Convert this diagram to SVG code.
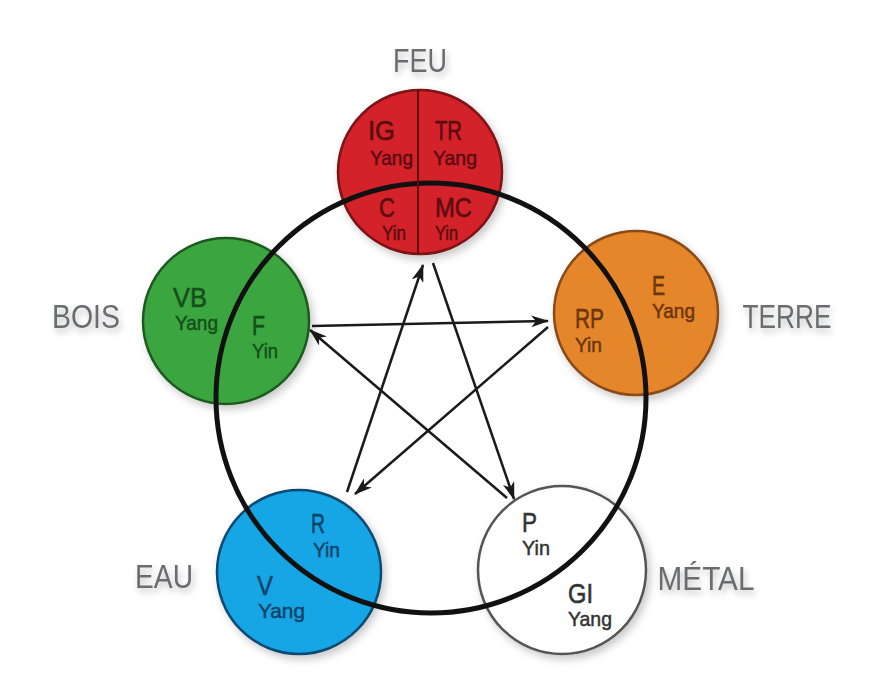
<svg xmlns="http://www.w3.org/2000/svg" width="887" height="690" viewBox="0 0 887 690">
  <defs>
    <filter id="sh" x="-20%" y="-20%" width="150%" height="150%">
      <feDropShadow dx="3" dy="4" stdDeviation="4" flood-color="#000" flood-opacity="0.22"/>
    </filter>
    <filter id="tsh" x="-20%" y="-30%" width="150%" height="180%">
      <feDropShadow dx="2" dy="4" stdDeviation="3" flood-color="#000" flood-opacity="0.25"/>
    </filter>
    <marker id="ah" viewBox="0 0 18 12" refX="17" refY="6" markerWidth="18" markerHeight="12" markerUnits="userSpaceOnUse" orient="auto">
      <path d="M0,0 L18,6 L0,12 L5,6 Z" fill="#1a1a1a"/>
    </marker>
    <style>
      text { font-family: "Liberation Sans", Arial, sans-serif; }
      .lbl { font-size: 33px; fill: #6b6c6e; text-anchor: middle; filter: url(#tsh); }
      .big { font-size: 28px; stroke-width: 0.6; }
      .sm { font-size: 21px; stroke-width: 0.5; }
      .conn line { stroke: #1a1a1a; stroke-width: 2.5; marker-end: url(#ah); }
      .ring { fill: none; stroke: #111; stroke-width: 5; }
    </style>
  </defs>
  <rect width="887" height="690" fill="#ffffff"/>

  <g id="feu">
    <circle cx="420" cy="172" r="82" fill="#d3202a" stroke="#7a1216" stroke-width="2.5" filter="url(#sh)"/>
    <g fill="#5c0c0e" stroke="#5c0c0e">
      <text class="big" x="368" y="140" textLength="27" lengthAdjust="spacingAndGlyphs">IG</text>
      <text class="sm" x="370" y="165" textLength="43" lengthAdjust="spacingAndGlyphs">Yang</text>
      <text class="big" x="435" y="140" textLength="27" lengthAdjust="spacingAndGlyphs">TR</text>
      <text class="sm" x="433" y="165" textLength="44" lengthAdjust="spacingAndGlyphs">Yang</text>
      <text class="big" x="379" y="217" textLength="16" lengthAdjust="spacingAndGlyphs">C</text>
      <text class="sm" x="382" y="240" textLength="24" lengthAdjust="spacingAndGlyphs">Yin</text>
      <text class="big" x="435" y="217" textLength="37" lengthAdjust="spacingAndGlyphs">MC</text>
      <text class="sm" x="435" y="240" textLength="23" lengthAdjust="spacingAndGlyphs">Yin</text>
    </g>
    <text class="lbl" x="420" y="72" textLength="54" lengthAdjust="spacingAndGlyphs">FEU</text>
  </g>

  <g id="bois">
    <circle cx="226" cy="321" r="83" fill="#3ba63f" stroke="#1f5a22" stroke-width="2.5" filter="url(#sh)"/>
    <g fill="#164f1a" stroke="#164f1a">
      <text class="big" x="173" y="307" textLength="34" lengthAdjust="spacingAndGlyphs">VB</text>
      <text class="sm" x="175" y="330" textLength="43" lengthAdjust="spacingAndGlyphs">Yang</text>
      <text class="big" x="252" y="335" textLength="13" lengthAdjust="spacingAndGlyphs">F</text>
      <text class="sm" x="252" y="358" textLength="26" lengthAdjust="spacingAndGlyphs">Yin</text>
    </g>
    <text class="lbl" x="86" y="328" textLength="68" lengthAdjust="spacingAndGlyphs">BOIS</text>
  </g>

  <g id="terre">
    <circle cx="636" cy="313" r="82" fill="#e6862b" stroke="#8a4b16" stroke-width="2.5" filter="url(#sh)"/>
    <g fill="#6a360d" stroke="#6a360d">
      <text class="big" x="652" y="295" textLength="13" lengthAdjust="spacingAndGlyphs">E</text>
      <text class="sm" x="652" y="318" textLength="43" lengthAdjust="spacingAndGlyphs">Yang</text>
      <text class="big" x="575" y="328" textLength="29" lengthAdjust="spacingAndGlyphs">RP</text>
      <text class="sm" x="575" y="352" textLength="27" lengthAdjust="spacingAndGlyphs">Yin</text>
    </g>
    <text class="lbl" x="787" y="328" textLength="89" lengthAdjust="spacingAndGlyphs">TERRE</text>
  </g>

  <g id="eau">
    <circle cx="299" cy="572" r="82" fill="#12a6e6" stroke="#0d4a70" stroke-width="2.5" filter="url(#sh)"/>
    <g fill="#0b4468" stroke="#0b4468">
      <text class="big" x="311" y="533" textLength="14" lengthAdjust="spacingAndGlyphs">R</text>
      <text class="sm" x="313" y="557" textLength="27" lengthAdjust="spacingAndGlyphs">Yin</text>
      <text class="big" x="257" y="595" textLength="16" lengthAdjust="spacingAndGlyphs">V</text>
      <text class="sm" x="258" y="618" textLength="47" lengthAdjust="spacingAndGlyphs">Yang</text>
    </g>
    <text class="lbl" x="164" y="588" textLength="58" lengthAdjust="spacingAndGlyphs">EAU</text>
  </g>

  <g id="metal">
    <circle cx="562" cy="570" r="84" fill="#ffffff" stroke="#555555" stroke-width="2.5" filter="url(#sh)"/>
    <g fill="#333333" stroke="#333333">
      <text class="big" x="522" y="532" textLength="15" lengthAdjust="spacingAndGlyphs">P</text>
      <text class="sm" x="522" y="555" textLength="28" lengthAdjust="spacingAndGlyphs">Yin</text>
      <text class="big" x="568" y="603" textLength="25" lengthAdjust="spacingAndGlyphs">GI</text>
      <text class="sm" x="568" y="626" textLength="44" lengthAdjust="spacingAndGlyphs">Yang</text>
    </g>
    <text class="lbl" x="706" y="590" textLength="97" lengthAdjust="spacingAndGlyphs">MÉTAL</text>
  </g>

  <g id="connectors">
    <circle class="ring" cx="431" cy="398" r="215"/>
    <line x1="418" y1="90" x2="418" y2="254" stroke="#5c0c0e" stroke-width="2"/>
    <g class="conn">
      <line x1="312" y1="326" x2="548" y2="321"/>
      <line x1="548" y1="327" x2="355" y2="494"/>
      <line x1="347" y1="492" x2="423" y2="265"/>
      <line x1="433" y1="263" x2="514" y2="499"/>
      <line x1="507" y1="498" x2="310" y2="330"/>
    </g>
  </g>
</svg>
